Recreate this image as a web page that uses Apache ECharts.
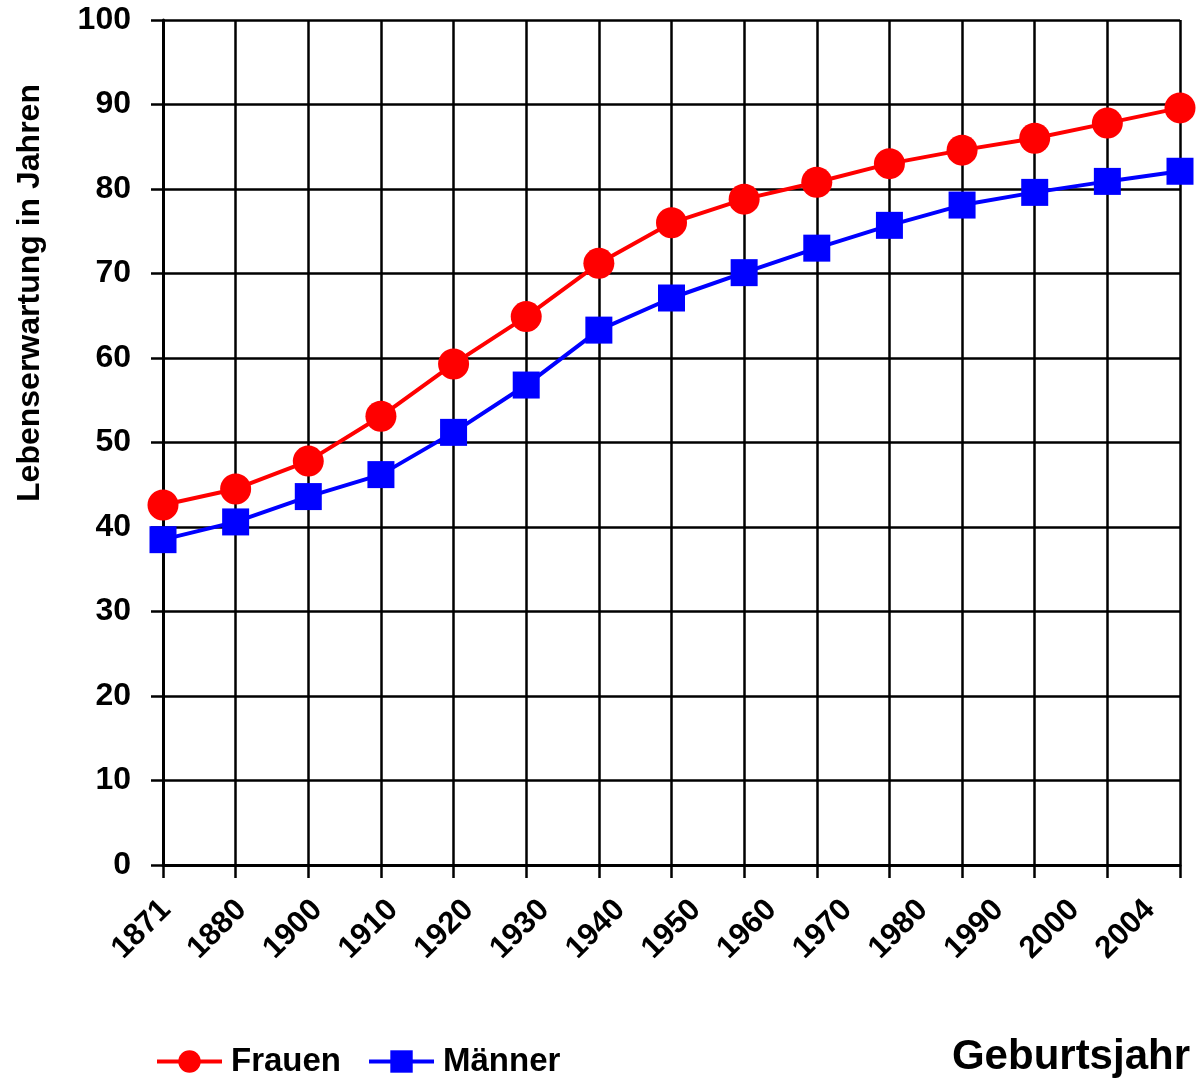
<!DOCTYPE html>
<html>
<head>
<meta charset="utf-8">
<script src="https://cdn.jsdelivr.net/npm/echarts@6/dist/echarts.min.js"></script>
<style>
  html, body { margin: 0; padding: 0; background: #fff; }
  #chart { width: 1196px; height: 1080px; }
</style>
</head>
<body>
<div id="chart"></div>
<script>
// Beschriftung der x-Achse (14 Etiketten, im Original gegen die 15 Punkte verschoben)
var tickLabels = ['1871', '1880', '1900', '1910', '1920', '1930', '1940',
                  '1950', '1960', '1970', '1980', '1990', '2000', '2004'];
// 15 Messpunkte
var slots = ['0', '1', '2', '3', '4', '5', '6', '7', '8', '9', '10', '11', '12', '13', '14'];
var frauen = [42.6, 44.5, 47.8, 53.1, 59.3, 64.9, 71.2, 76.0, 78.8, 80.8, 83.0, 84.6, 86.0, 87.8, 89.6];
var maenner = [38.5, 40.6, 43.6, 46.2, 51.2, 56.8, 63.3, 67.1, 70.1, 73.0, 75.7, 78.1, 79.6, 80.9, 82.1];
var yTicks = [0, 10, 20, 30, 40, 50, 60, 70, 80, 90, 100];

var FONT = '"Liberation Sans", Arial, sans-serif';

var myChart = echarts.init(document.getElementById('chart'));

var option = {
    backgroundColor: '#fff',
    animation: false,
    grid: [
        { left: 163, right: 16, top: 20, bottom: 215 },
        // nur fuer die x-Beschriftung
        { left: 166, right: 46, top: 20, bottom: 215 }
    ],
    legend: {
        left: 150,
        top: 1040,
        itemWidth: 65,
        itemHeight: 28,
        itemGap: 26,
        lineStyle: { width: 4 },
        textStyle: { fontFamily: FONT, fontWeight: 'bold', fontSize: 33, color: '#000', padding: [0, 0, 0, 4] },
        data: ['Frauen', 'Männer']
    },
    xAxis: [{
        type: 'category',
        gridIndex: 0,
        data: slots,
        boundaryGap: false,
        axisLine: { lineStyle: { color: '#000', width: 3 } },
        axisTick: { show: true, interval: 0, length: 13, lineStyle: { color: '#000', width: 2.5 } },
        axisLabel: { show: false },
        splitLine: { show: true, interval: 0, lineStyle: { color: '#000', width: 2.5 } }
    }, {
        type: 'category',
        gridIndex: 1,
        data: tickLabels,
        boundaryGap: false,
        axisLine: { show: false },
        axisTick: { show: false },
        splitLine: { show: false },
        axisLabel: {
            interval: 0,
            rotate: 45,
            margin: 40,
            fontFamily: FONT,
            fontWeight: 'bold',
            fontSize: 31,
            color: '#000'
        }
    }],
    yAxis: [{
        type: 'value',
        gridIndex: 0,
        min: yTicks[0],
        max: yTicks[yTicks.length - 1],
        interval: 10,
        axisLine: { show: true, lineStyle: { color: '#000', width: 3 } },
        axisTick: { show: true, length: 12, lineStyle: { color: '#000', width: 2.5 } },
        axisLabel: { margin: 32, fontFamily: FONT, fontWeight: 'bold', fontSize: 32, color: '#000' },
        splitLine: { show: true, lineStyle: { color: '#000', width: 2.5 } }
    }, {
        type: 'value',
        gridIndex: 1,
        min: 0,
        max: 100,
        show: false
    }],
    series: [{
        name: 'Frauen',
        type: 'line',
        xAxisIndex: 0,
        yAxisIndex: 0,
        data: frauen,
        clip: false,
        symbol: 'circle',
        symbolSize: 31,
        color: '#ff0000',
        lineStyle: { color: '#ff0000', width: 4 },
        itemStyle: { color: '#ff0000' }
    }, {
        name: 'Männer',
        type: 'line',
        xAxisIndex: 0,
        yAxisIndex: 0,
        data: maenner,
        clip: false,
        symbol: 'rect',
        symbolSize: 27,
        color: '#0000ff',
        lineStyle: { color: '#0000ff', width: 4 },
        itemStyle: { color: '#0000ff' }
    }],
    graphic: [{
        type: 'text',
        x: 30,
        y: 293,
        rotation: Math.PI / 2,
        style: {
            text: 'Lebenserwartung in Jahren',
            font: 'bold 32px ' + FONT,
            fill: '#000',
            align: 'center',
            verticalAlign: 'middle'
        }
    }, {
        type: 'text',
        x: 1190,
        y: 1057,
        style: {
            text: 'Geburtsjahr',
            font: 'bold 42px ' + FONT,
            fill: '#000',
            align: 'right',
            verticalAlign: 'middle'
        }
    }]
};

myChart.setOption(option);
</script>
</body>
</html>
